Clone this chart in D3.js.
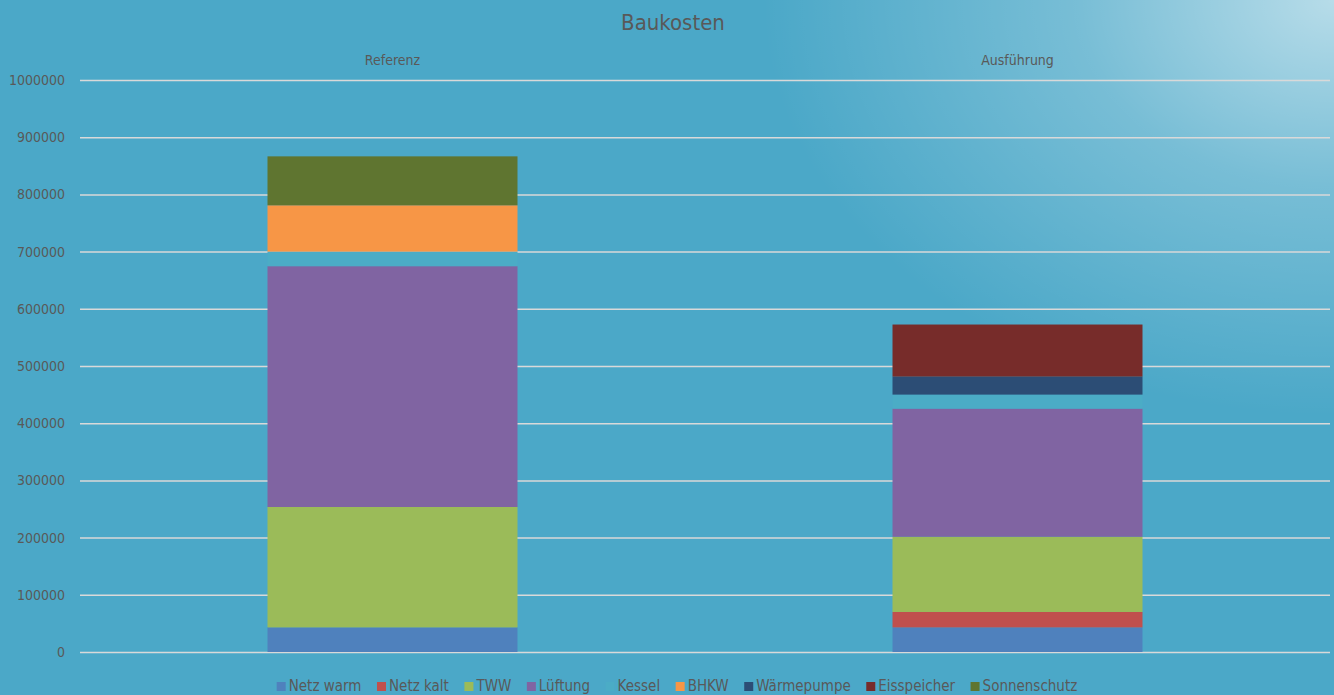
<!DOCTYPE html>
<html>
<head>
<meta charset="utf-8">
<script src="https://cdn.jsdelivr.net/npm/d3@7/dist/d3.min.js"></script>
<style>
  html, body { margin: 0; padding: 0; overflow: hidden; }
  body { width: 1334px; height: 695px; }
  text { font-family: "Liberation Sans Narrow", "DejaVu Sans Condensed", "Open Sans", sans-serif; fill: #595959; }
</style>
</head>
<body>
<div id="chart"></div>
<script>
// categories and series (values in EUR)
const categories = ["Referenz", "Ausführung"];
const seriesNames = ["Netz warm", "Netz kalt", "TWW", "Lüftung", "Kessel", "BHKW", "Wärmepumpe", "Eisspeicher", "Sonnenschutz"];
const seriesColors = ["#4F81BD", "#C0504D", "#9BBB59", "#8064A2", "#4BACC6", "#F79646", "#2C4D75", "#772C2A", "#5F7530"];
const referenzValues = [43000, 0, 210500, 421000, 25500, 81000, 0, 0, 85500];
const ausfuehrungValues = [43000, 27000, 131500, 224000, 24500, 0, 31500, 91000, 0];
const yTicks = [0, 100000, 200000, 300000, 400000, 500000, 600000, 700000, 800000, 900000, 1000000];

const W = 1334, H = 695;
const margin = {top: 80, right: 4, bottom: 43, left: 80};

const svg = d3.select("#chart").append("svg")
    .attr("width", W)
    .attr("height", H);

// background with light glow in the upper right corner
const defs = svg.append("defs");
const glow = defs.append("radialGradient")
    .attr("id", "glow")
    .attr("gradientUnits", "userSpaceOnUse")
    .attr("cx", 1334).attr("cy", 0).attr("r", 520)
    .attr("gradientTransform", "translate(1334,0) scale(1.1,0.8) translate(-1334,0)");
glow.append("stop").attr("offset", "0%").attr("stop-color", "#ffffff").attr("stop-opacity", 0.6);
glow.append("stop").attr("offset", "45%").attr("stop-color", "#ffffff").attr("stop-opacity", 0.25);
glow.append("stop").attr("offset", "100%").attr("stop-color", "#ffffff").attr("stop-opacity", 0);

svg.append("rect").attr("width", W).attr("height", H).attr("fill", "#4BA8C8");
svg.append("rect").attr("width", W).attr("height", H).attr("fill", "url(#glow)");

// build rows for the stack
const rows = categories.map((c, i) => {
    const vals = i === 0 ? referenzValues : ausfuehrungValues;
    const row = {category: c};
    seriesNames.forEach((s, j) => row[s] = vals[j]);
    return row;
});
const stacked = d3.stack().keys(seriesNames)(rows);

const x = d3.scaleBand()
    .domain(categories)
    .range([margin.left, W - margin.right])
    .paddingInner(0.6)
    .paddingOuter(0.3);

const y = d3.scaleLinear()
    .domain([0, 1000000])
    .range([H - margin.bottom, margin.top]);

const color = d3.scaleOrdinal().domain(seriesNames).range(seriesColors);

// gridlines + tick labels
const yAxis = svg.append("g")
    .attr("transform", "translate(" + margin.left + ",0)")
    .call(d3.axisLeft(y).tickValues(yTicks).tickFormat(d3.format("d"))
        .tickSize(-(W - margin.left - margin.right)).tickPadding(15));
yAxis.select(".domain").remove();
yAxis.selectAll(".tick line").attr("stroke", "#D9D9D9").attr("stroke-width", 1.5);
yAxis.selectAll(".tick text").style("font-size", "14px").attr("fill", "#595959");

// category labels on top
const xAxis = svg.append("g")
    .attr("transform", "translate(0," + (margin.top - 15) + ")")
    .call(d3.axisTop(x).tickSize(0).tickPadding(0));
xAxis.select(".domain").remove();
xAxis.selectAll(".tick text").style("font-size", "14px").attr("fill", "#595959");

// bars
svg.append("g").selectAll("g")
    .data(stacked)
    .join("g")
    .attr("fill", d => color(d.key))
    .selectAll("rect")
    .data(d => d)
    .join("rect")
    .attr("x", d => x(d.data.category))
    .attr("width", x.bandwidth())
    .attr("y", d => y(d[1]))
    .attr("height", d => y(d[0]) - y(d[1]));

// title
svg.append("text")
    .attr("x", W / 2 + 6)
    .attr("y", 30)
    .attr("text-anchor", "middle")
    .style("font-size", "22px")
    .text("Baukosten");

// legend
const legend = svg.append("g");
const items = legend.selectAll("g")
    .data(seriesNames)
    .join("g");
items.append("rect")
    .attr("width", 9).attr("height", 9)
    .attr("y", -9)
    .attr("fill", d => color(d));
items.append("text")
    .attr("x", 12)
    .style("font-size", "15px")
    .text(d => d);

const gap = 15.5;
let cx = 0;
items.each(function () {
    const g = d3.select(this);
    const w = 12 + g.select("text").node().getComputedTextLength();
    g.attr("transform", "translate(" + cx + ",0)");
    cx += w + gap;
});
const legendW = cx - gap;
legend.attr("transform", "translate(" + (W / 2 + 10 - legendW / 2) + "," + 691 + ")");
</script>
</body>
</html>
